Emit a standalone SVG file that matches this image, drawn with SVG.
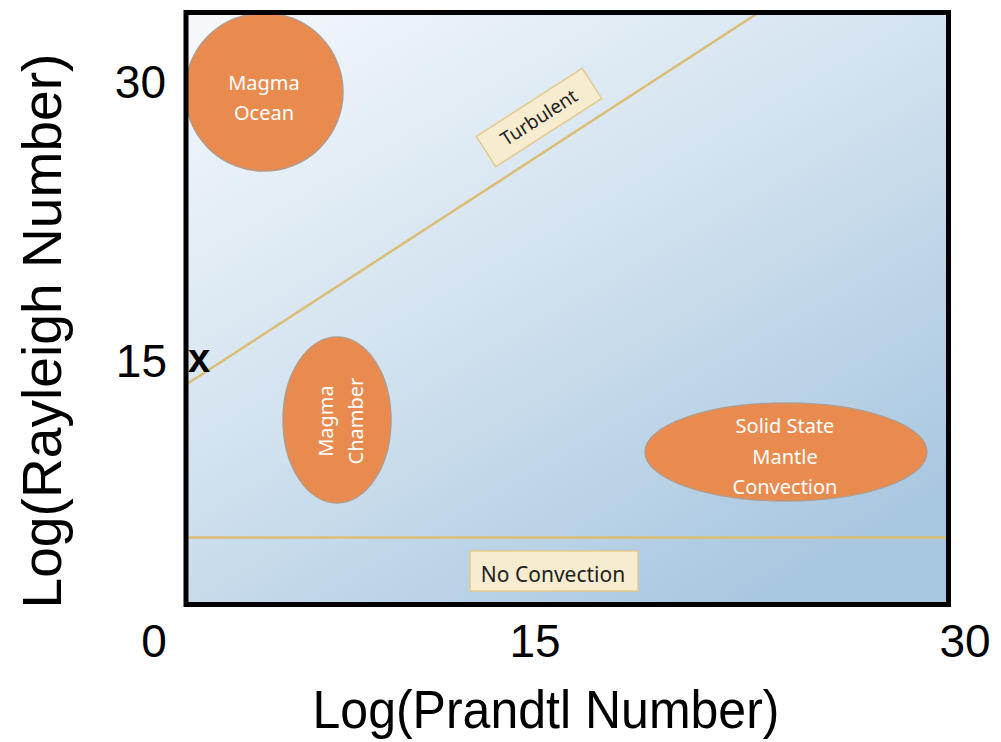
<svg xmlns="http://www.w3.org/2000/svg" width="1001" height="742" viewBox="0 0 1001 742">
  <defs>
    <linearGradient id="bg" x1="0" y1="0" x2="0.75" y2="1">
      <stop offset="0" stop-color="#f5f9fc"/>
      <stop offset="0.5" stop-color="#d2e2ef"/>
      <stop offset="1" stop-color="#a8c7e0"/>
    </linearGradient>
    <style>
      .blob { fill: #e98b4e; stroke: #b79a88; stroke-width: 1.5; }
      .blobtxt { font-family: "Noto Sans", "DejaVu Sans", sans-serif; font-size: 20px; fill: #ffffff; text-anchor: middle; }
      .tag { fill: #f8ecd0; stroke: #e3c98a; stroke-width: 1.5; }
      .tagtxt { font-family: "Noto Sans", "DejaVu Sans", sans-serif; fill: #222222; text-anchor: middle; }
      .axis { font-family: "Liberation Sans", Arial, sans-serif; fill: #000000; }
      .bound { stroke: #dcbd74; stroke-width: 2.5; fill: none; }
    </style>
  </defs>
  <rect x="0" y="0" width="1001" height="742" fill="#ffffff"/>

  <!-- plot area -->
  <g id="plot">
    <rect x="186" y="12.5" width="762.5" height="592" fill="url(#bg)"/>
  </g>

  <!-- boundary lines -->
  <g id="connectors">
    <line class="bound" x1="187" y1="384" x2="758" y2="13"/>
    <line class="bound" x1="187" y1="537.5" x2="947" y2="537.5" stroke="#e2b860"/>
  </g>

  <g id="magma-ocean">
    <circle class="blob" cx="264" cy="92" r="79"/>
    <text class="blobtxt" x="264" y="90">Magma</text>
    <text class="blobtxt" x="264" y="120">Ocean</text>
  </g>

  <g id="magma-chamber">
    <ellipse class="blob" cx="337" cy="420" rx="54" ry="83"/>
    <text class="blobtxt" transform="translate(333,421) rotate(-90)" x="0" y="0">Magma</text>
    <text class="blobtxt" transform="translate(363,421) rotate(-90)" x="0" y="0">Chamber</text>
  </g>

  <g id="solid-state">
    <ellipse class="blob" cx="786" cy="452" rx="141" ry="49"/>
    <text class="blobtxt" x="785" y="433">Solid State</text>
    <text class="blobtxt" x="785" y="464">Mantle</text>
    <text class="blobtxt" x="785" y="494">Convection</text>
  </g>

  <g id="turbulent" transform="translate(539,117.5) rotate(-32.8)">
    <rect class="tag" x="-63" y="-18" width="126" height="36"/>
    <text class="tagtxt" x="0" y="6.5" font-size="19">Turbulent</text>
  </g>

  <g id="no-convection">
    <rect class="tag" x="470" y="551" width="168" height="40"/>
    <text class="tagtxt" x="553" y="582" font-size="21">No Convection</text>
  </g>

  <!-- frame -->
  <rect x="186" y="12.5" width="762.5" height="592" fill="none" stroke="#000000" stroke-width="5"/>

  <!-- axis texts -->
  <g id="axes">
    <text class="axis" x="166" y="98" font-size="46" text-anchor="end">30</text>
    <text class="axis" x="167" y="377" font-size="46" text-anchor="end">15</text>
    <text class="axis" x="199" y="372" font-size="40" font-weight="bold" text-anchor="middle">x</text>
    <text class="axis" x="154" y="657" font-size="46" text-anchor="middle">0</text>
    <text class="axis" x="535" y="657" font-size="46" text-anchor="middle">15</text>
    <text class="axis" x="965" y="657" font-size="46" text-anchor="middle">30</text>
    <text class="axis" x="546" y="728" font-size="53" text-anchor="middle" textLength="467" lengthAdjust="spacingAndGlyphs">Log(Prandtl Number)</text>
    <text class="axis" transform="translate(61,331) rotate(-90)" x="0" y="0" font-size="55" text-anchor="middle" textLength="555" lengthAdjust="spacingAndGlyphs">Log(Rayleigh Number)</text>
  </g>
</svg>
